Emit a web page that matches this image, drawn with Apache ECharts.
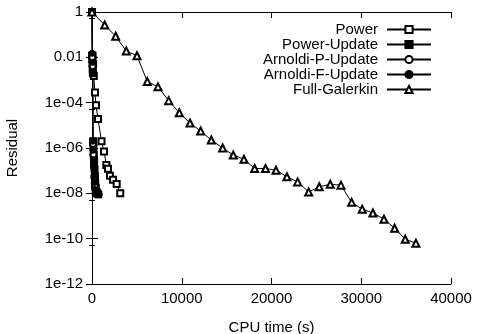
<!DOCTYPE html>
<html><head><meta charset="utf-8">
<script src="https://cdn.jsdelivr.net/npm/echarts@6/dist/echarts.min.js"></script>
<style>html,body{margin:0;padding:0;background:#fff}#c{width:478px;height:334px}</style>
</head><body><div id="c"></div>
<script>
const seriesNames = ['Power','Power-Update','Arnoldi-P-Update','Arnoldi-F-Update','Full-Galerkin'];
const powerX = [0, 50, 120, 200, 330, 445, 670, 1060, 1340, 1600, 1780, 2000, 2350, 2750, 3150];
const powerY = [1, 0.012, 0.005, 0.0015, 2.8e-4, 7.6e-5, 1.9e-5, 2.0e-6, 7.0e-7, 1.8e-7, 1.2e-7, 6e-8, 4e-8, 2.6e-8, 1e-8];
const powerUpdX = [0, 20, 40, 60, 80, 100, 130, 160, 200, 240, 280, 320, 360, 420, 500, 600, 700];
const powerUpdY = [1, 0.012, 0.008, 0.005, 0.003, 0.002, 2e-6, 1e-6, 5e-7, 2.5e-7, 1.2e-7, 6e-8, 3e-8, 1.8e-8, 1.2e-8, 1e-8, 9e-9];
const arnPX = [0, 40, 80, 120, 170, 220, 270, 330, 400];
const arnPY = [1, 0.01, 0.004, 1.5e-6, 5e-7, 1.5e-7, 5e-8, 2e-8, 1e-8];
const arnFX = [0, 30, 60, 90, 120, 150, 180, 220, 260, 300, 350, 400, 800];
const arnFY = [1, 0.015, 0.006, 2e-6, 8e-7, 3e-7, 1.5e-7, 6e-8, 3e-8, 1.5e-8, 1e-8, 9e-9, 9e-9];
const galX = [0, 1415, 2640, 3821, 5013, 6161, 7353, 8545, 9726, 10918, 12110, 13290, 14560, 15740, 16930, 18125, 19330, 20500, 21720, 22910, 24140, 25320, 26540, 27740, 28930, 30110, 31300, 32530, 33720, 34900, 36090];
const galY = [1, 0.267, 0.0848, 0.019, 0.0118, 8.5e-4, 5.0e-4, 1.23e-4, 3.6e-5, 1.27e-5, 5.6e-6, 2.25e-6, 1e-6, 4.9e-7, 3.2e-7, 1.25e-7, 1.25e-7, 1.05e-7, 5.4e-8, 3.2e-8, 1.15e-8, 1.96e-8, 2.5e-8, 2.3e-8, 4.0e-9, 2.0e-9, 1.36e-9, 7.2e-10, 2.9e-10, 9.4e-11, 6.3e-11];
const xTickLabels = ['0','10000','20000','30000','40000'];
const yTickLabels = {'0':'1','-2':'0.01','-4':'1e-04','-6':'1e-06','-8':'1e-08','-10':'1e-10','-12':'1e-12'};

const FONT = 'Liberation Sans, Arial, sans-serif';
const zip = (xs, ys) => xs.map((x, i) => [x, ys[i]]);
const ch = echarts.init(document.getElementById('c'), null, {renderer: 'canvas'});
const mk = (name, xs, ys, sym, size) => ({
  name, type: 'line', data: zip(xs, ys), symbol: sym, symbolSize: size,
  showSymbol: true,
  lineStyle: {color: '#000', width: 1},
  itemStyle: {color: '#000', borderColor: '#000', borderWidth: 1},
  animation: false, z: 3
});
const tickInside = (len) => ({show: true, inside: true, length: len, lineStyle: {color: '#000', width: 1}});
const yFmt = v => { const e = Math.round(Math.log10(v)); return yTickLabels[String(e)] || ''; };
ch.setOption({
  animation: false,
  textStyle: {fontFamily: FONT},
  grid: {left: 92, right: 27, top: 12, bottom: 50, show: false, containLabel: false, outerBoundsMode: 'none'},
  legend: {
    orient: 'vertical', align: 'right', right: 41, top: 17,
    itemWidth: 44, itemHeight: 9, itemGap: 0,
    textStyle: {fontFamily: FONT, fontSize: 15, color: '#000', padding: [0, 4, 0, 0]},
    data: seriesNames
  },
  xAxis: [{
    type: 'value', min: 0, max: 40000, interval: 10000,
    name: 'CPU time (s)', nameLocation: 'middle', nameGap: 36,
    nameTextStyle: {fontFamily: FONT, fontSize: 15, color: '#000'},
    axisLine: {show: true, lineStyle: {color: '#000', width: 1}},
    axisTick: tickInside(6), splitLine: {show: false},
    axisLabel: {fontFamily: FONT, fontSize: 15, color: '#000', margin: 7,
      formatter: v => xTickLabels[Math.round(v / 10000)] }
  }, {
    type: 'value', min: 0, max: 40000, interval: 10000, position: 'top',
    axisLine: {show: true, lineStyle: {color: '#000', width: 1}},
    axisTick: tickInside(6), axisLabel: {show: false}, splitLine: {show: false}
  }],
  yAxis: [{
    type: 'log', logBase: 10, min: 1e-12, max: 1, interval: 2,
    name: 'Residual', nameLocation: 'middle', nameGap: 72, nameRotate: 90,
    nameTextStyle: {fontFamily: FONT, fontSize: 15, color: '#000'},
    axisLine: {show: true, lineStyle: {color: '#000', width: 1}},
    axisTick: tickInside(6),
    minorTick: {show: true, splitNumber: 2, length: 3, lineStyle: {color: '#000', width: 1}},
    splitLine: {show: false}, minorSplitLine: {show: false},
    axisLabel: {fontFamily: FONT, fontSize: 15, color: '#000', margin: 9, formatter: yFmt}
  }, {
    type: 'log', logBase: 10, min: 1e-12, max: 1, interval: 2, position: 'right',
    axisLine: {show: true, lineStyle: {color: '#000', width: 1}},
    axisTick: tickInside(6),
    minorTick: {show: true, splitNumber: 2, length: 3, lineStyle: {color: '#000', width: 1}},
    axisLabel: {show: false}, splitLine: {show: false}
  }],
  series: [
    mk('Power', powerX, powerY, 'emptyRect', 6),
    mk('Power-Update', powerUpdX, powerUpdY, 'rect', 7),
    mk('Arnoldi-P-Update', arnPX, arnPY, 'emptyCircle', 6),
    mk('Arnoldi-F-Update', arnFX, arnFY, 'circle', 6),
    mk('Full-Galerkin', galX, galY, 'emptyTriangle', 7)
  ]
});
</script></body></html>
